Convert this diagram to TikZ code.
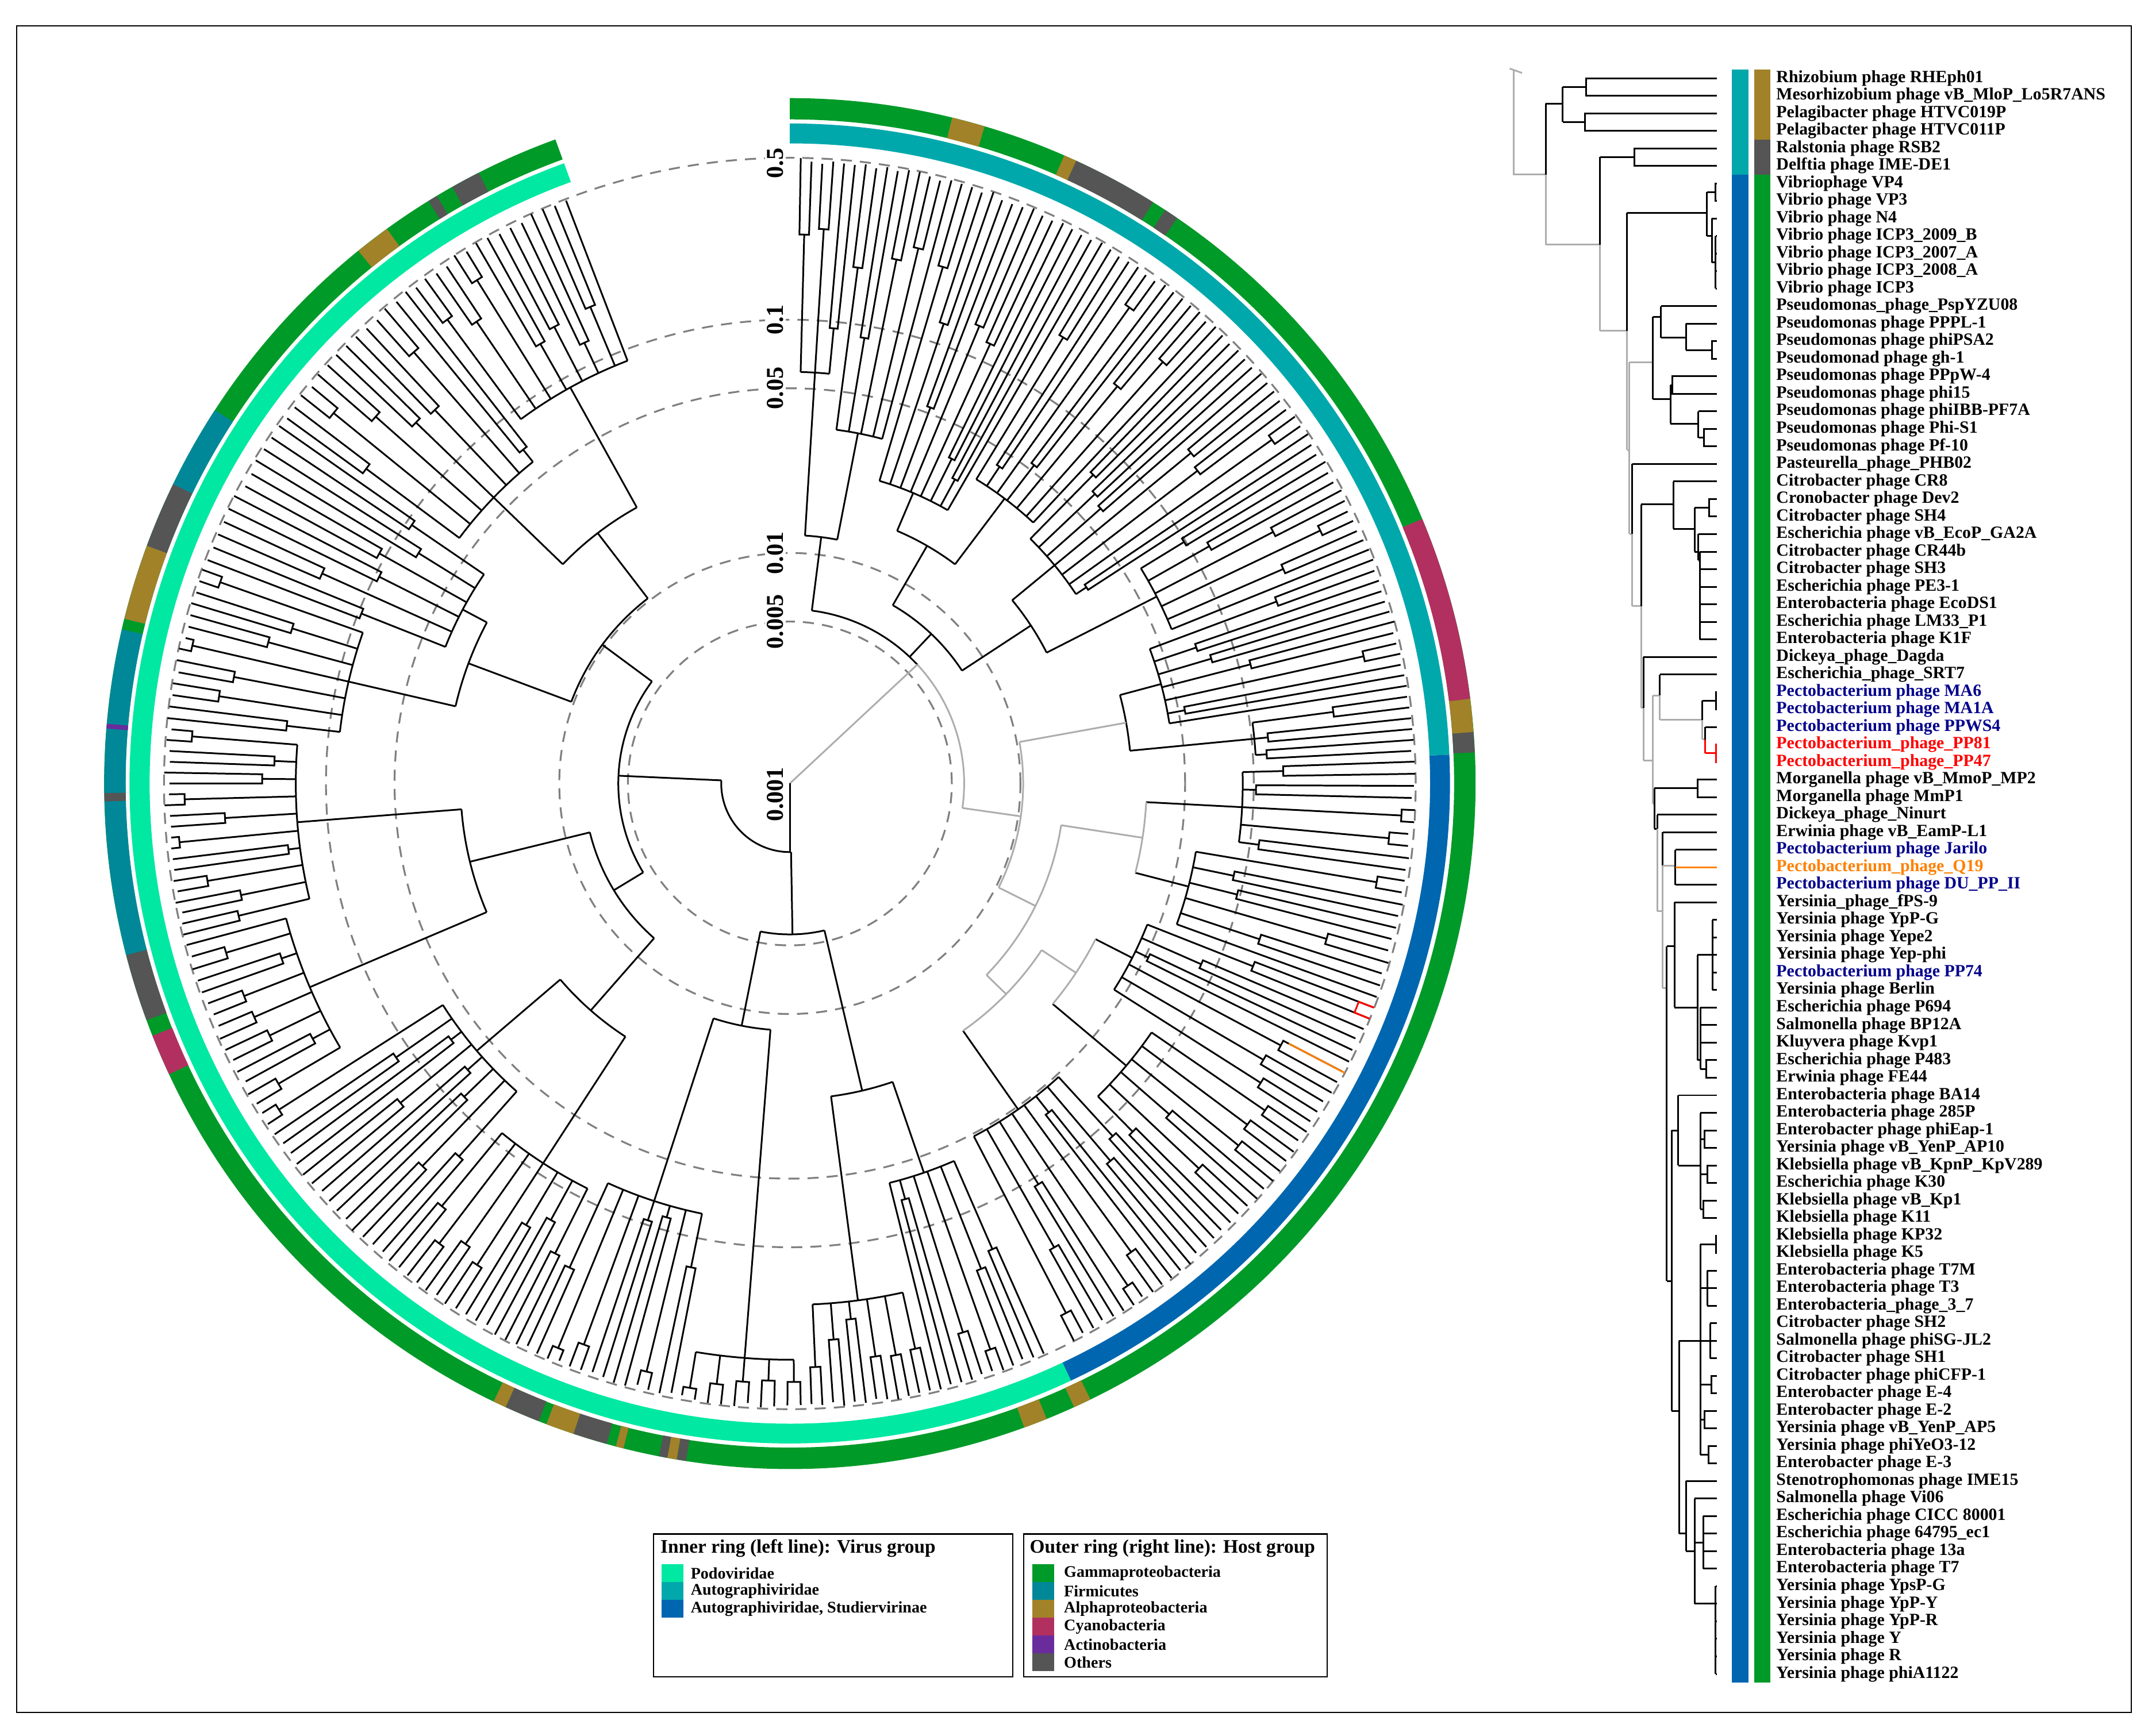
\documentclass[tikz,border=0pt]{standalone}
\usepackage{fontspec}
\setmainfont{Liberation Serif}
\definecolor{cPodo}{HTML}{00E8A2}
\definecolor{cAuto}{HTML}{00A8AC}
\definecolor{cStud}{HTML}{0066B0}
\definecolor{cGamma}{HTML}{009A28}
\definecolor{cFirm}{HTML}{008898}
\definecolor{cAlpha}{HTML}{A28228}
\definecolor{cCyano}{HTML}{B23060}
\definecolor{cActino}{HTML}{6A2C9C}
\definecolor{cOther}{HTML}{555555}
\definecolor{cNavy}{HTML}{00008B}
\definecolor{cOrange}{HTML}{FF8000}
\newcommand\myclade[6]{%
 \pgfmathsetmacro\cM{((#1)+(#2))/2}%
 \pgfmathsetmacro\cD{((#1)-(#2))/(#3-1)}%
 \pgfmathtruncatemacro\cNP{floor(#3/2)}%
 \pgfmathtruncatemacro\cOdd{#3-2*\cNP}%
 \pgfmathsetmacro\cFirst{(#1)-\cD/2}%
 \ifnum\cOdd=1 \pgfmathsetmacro\cLast{#2}\else\pgfmathsetmacro\cLast{(#2)+\cD/2}\fi
 \draw[#6] (\cM:#5) -- (\cM:#4);
 \draw[#6] (\cFirst:#4) arc[start angle=\cFirst,end angle=\cLast,radius=#4];
 \foreach \k in {1,...,\cNP}{%
   \pgfmathsetmacro\cPa{(#1)-(2*\k-2)*\cD}%
   \pgfmathsetmacro\cPb{\cPa-\cD}%
   \pgfmathsetmacro\cPm{\cPa-\cD/2}%
   \pgfmathsetmacro\cPr{#4+8+rnd*(440-#4)}%
   \pgfmathsetmacro\cTa{452+rnd*4}\pgfmathsetmacro\cTb{452+rnd*4}%
   \draw[#6] (\cPm:#4) -- (\cPm:\cPr);
   \draw[#6] (\cPa:\cTa) -- (\cPa:\cPr) arc[start angle=\cPa,end angle=\cPb,radius=\cPr] -- (\cPb:\cTb);
 }%
 \ifnum\cOdd=1 \draw[#6] (#2:#4) -- (#2:455);\fi
}
\newcommand\myseg[5]{\fill[#1] (#2:#4) arc[start angle=#2,end angle=#3,radius=#4] -- (#3:#5) arc[start angle=#3,end angle=#2,radius=#5] -- cycle;}
\newcommand\myarc[4][br]{\draw[#1] (#2:#4) arc[start angle=#2,end angle=#3,radius=#4];}
\newcommand\mystem[4][br]{\draw[#1] (#2:#3) -- (#2:#4);}
\newcommand\rlf[2]{\draw[br] (#1,#2)--(1251,#2);}
\newcommand\rpr[2]{\draw[br] (1251,#2)--(#1,#2)--(#1,#2+1)--(1251,#2+1);}
\begin{document}
\begin{tikzpicture}[x=0.02388cm,y=-0.02388cm,
 br/.style={line width=0.85pt,black},
 gbr/.style={line width=0.85pt,black!32},
 rbr/.style={line width=0.85pt,red},
 obr/.style={line width=0.85pt,cOrange},
 dashc/.style={line width=0.9pt,black!50,dash pattern=on 5.5pt off 4pt},
 lab/.style={anchor=west,font=\fontsize{8.5}{10}\selectfont\bfseries,inner sep=0pt},
 leg/.style={anchor=west,font=\fontsize{8}{9}\selectfont\bfseries,inner sep=0pt},
 legt/.style={anchor=west,font=\fontsize{9.5}{11}\selectfont\bfseries,inner sep=0pt},
 scl/.style={rotate=90,font=\fontsize{12}{12}\selectfont\bfseries,fill=white,inner sep=1pt}]
\useasboundingbox (0,0) rectangle (1568,1265);
\draw[line width=0.6pt] (12,19) rectangle (1553,1248);
\pgfmathsetseed{11}
\begin{scope}[shift={(575.5,571)},yscale=-1]
 \foreach \r in {118,168,288,338,456}{\draw[dashc] (0,0) circle[radius=\r];}
 % teal clade
 \myclade{89}{84}{6}{300}{181}{br}
 \myclade{83}{75}{9}{260}{181}{br}
 \myarc{86.5}{79}{181}\mystem{82.75}{127}{181}
 \myclade{74}{60}{15}{230}{200}{br}
 \myclade{59}{47}{13}{260}{200}{br}
 \myarc{67}{53}{200}\mystem{60}{150}{200}
 \myclade{46}{33}{14}{250}{210}{br}
 \myclade{32}{22}{11}{300}{210}{br}
 \myarc{39.5}{27}{210}\mystem{33.25}{150}{210}
 \myarc{60}{33.25}{150}\mystem{46.6}{127}{150}
 \myarc{82.75}{43}{127}\myarc[gbr]{43}{-8.1}{127}
 \draw[gbr] (0,0) -- (43:127);
 % cyanobacteria clades
 \myclade{21}{9}{13}{280}{249}{br}
 \myclade{8}{3}{6}{340}{249}{br}
 \myarc{15}{5.5}{249}\mystem[gbr]{10.25}{170}{249}
 % Studiervirinae
 \myclade{2}{-8}{10}{330}{260}{br}
 \myclade{-9}{-20}{11}{300}{260}{br}
 \myarc[gbr]{-3}{-14.5}{260}\mystem[gbr]{-8.75}{200}{260}
 \myclade{-21}{-33}{12}{280}{250}{br}
 \myclade{-34}{-46}{12}{320}{250}{br}
 \myarc[gbr]{-27}{-40}{250}\mystem[gbr]{-33.5}{220}{250}
 \myclade{-47}{-63}{16}{290}{220}{br}
 \myarc[gbr]{-33.5}{-55}{220}\mystem[gbr]{-44.25}{200}{220}
 \myarc[gbr]{-8.75}{-44.25}{200}\mystem[gbr]{-26.5}{170}{200}
 \myarc[gbr]{10.25}{-26.5}{170}\mystem[gbr]{-8.1}{127}{170}
 \draw[rbr] (-21:456) -- (-21:444) arc[start angle=-21,end angle=-22.09,radius=444] -- (-22.09:456);
 \draw[obr] (-27.55:410) -- (-27.55:456);
 % Podoviridae
 \myclade{-66}{-76}{11}{300}{230}{br}
 \myclade{-77}{-88}{12}{380}{230}{br}
 \myarc{-71}{-82.5}{230}\mystem{-76.75}{110}{230}
 \myclade{-89}{-100}{10}{420}{180}{br}
 \myclade{-101}{-115}{14}{320}{180}{br}
 \myarc{-94.5}{-108}{180}\mystem{-101.25}{110}{180}
 \myarc{-76.75}{-101.25}{110}\mystem{-89}{50}{110}
 \myclade{-116}{-130}{14}{330}{220}{br}
 \myclade{-131}{-148}{16}{300}{220}{br}
 \myarc{-123}{-139.5}{220}\mystem{-131.25}{150}{220}
 \myclade{-149}{-165}{15}{380}{240}{br}
 \myclade{-166}{-185}{20}{360}{240}{br}
 \myarc{-157}{-175.5}{240}\mystem{-166.25}{150}{240}
 \myarc{-131.25}{-166.25}{150}\mystem{-148.75}{125}{150}
 \myclade{-186}{-200}{14}{330}{250}{br}
 \myclade{-201}{-215}{12}{270}{250}{br}
 \myarc{-193}{-208}{250}\mystem{-200.5}{170}{250}
 \myclade{-216}{-232}{14}{300}{230}{br}
 \myclade{-233}{-249}{15}{330}{230}{br}
 \myarc{-224}{-241}{230}\mystem{-232.5}{170}{230}
 \myarc{-200.5}{-232.5}{170}\mystem{-216.5}{125}{170}
 \myarc{-148.75}{-216.5}{125}\mystem{-182.6}{50}{125}
 \myarc{-89}{-182.6}{50}
 \draw[br] (0,0) -- (-90:50);
 % inner ring
 \myseg{cAuto}{90}{2.5}{466.5}{481}
 \myseg{cStud}{2.5}{-64.8}{466.5}{481}
 \myseg{cPodo}{-64.8}{-250}{466.5}{481}
 % outer ring
 \myseg{cGamma}{90}{-250}{484}{499.5}
 \myseg{cAlpha}{76.3}{73.5}{484}{499.5}
 \myseg{cAlpha}{66.4}{65.3}{484}{499.5}
 \myseg{cOther}{65.3}{58}{484}{499.5}
 \myseg{cOther}{56.8}{55.6}{484}{499.5}
 \myseg{cCyano}{22.7}{7.1}{484}{499.5}
 \myseg{cAlpha}{7.1}{4.3}{484}{499.5}
 \myseg{cOther}{4.3}{2.6}{484}{499.5}
 \myseg{cAlpha}{-64}{-65.5}{484}{499.5}
 \myseg{cAlpha}{-68}{-70}{484}{499.5}
 \myseg{cOther}{-98.7}{-99.5}{484}{499.5}
 \myseg{cAlpha}{-99.5}{-100.3}{484}{499.5}
 \myseg{cOther}{-100.3}{-101}{484}{499.5}
 \myseg{cAlpha}{-104.05}{-104.7}{484}{499.5}
 \myseg{cOther}{-105.5}{-108.4}{484}{499.5}
 \myseg{cAlpha}{-108.4}{-110.8}{484}{499.5}
 \myseg{cOther}{-111.5}{-114.5}{484}{499.5}
 \myseg{cAlpha}{-114.5}{-115.6}{484}{499.5}
 \myseg{cCyano}{-154.9}{-158.4}{484}{499.5}
 \myseg{cOther}{-159.8}{-165.5}{484}{499.5}
 \myseg{cFirm}{-165.5}{-213}{484}{499.5}
 \myseg{cOther}{-178.5}{-179.2}{484}{499.5}
 \myseg{cActino}{-184.6}{-185}{484}{499.5}
 \myseg{cAlpha}{-193.9}{-200.3}{484}{499.5}
 \myseg{cOther}{-200.3}{-205.9}{484}{499.5}
 \myseg{cFirm}{-205.9}{-213}{484}{499.5}
 \myseg{cGamma}{-193}{-193.9}{484}{499.5}
 \myseg{cAlpha}{-231}{-234}{484}{499.5}
 \myseg{cOther}{-238.2}{-239}{484}{499.5}
 \myseg{cOther}{-240.5}{-243}{484}{499.5}
\end{scope}
% scale labels
\node[scl] (s1) at (565,119) {0.5};
\node[scl] (s2) at (565,233) {0.1};
\node[scl] (s3) at (565,283) {0.05};
\node[scl] (s4) at (565,403) {0.01};
\node[scl] (s5) at (565,453) {0.005};
\node[scl] (s6) at (565,579) {0.001};
% right tree
\begin{scope}[shift={(0,44.22)},yscale=12.78]
\draw[gbr] (1100,0.45)--(1109,0.7);
\draw[gbr] (1102.8,0.55)--(1102.8,6.5)--(1126.2,6.5);
\draw[br] (1126.2,2.45)--(1126.2,6.5); \draw[gbr] (1126.2,6.5)--(1126.2,10.5);
\draw[br] (1126.2,2.45)--(1138.6,2.45); \draw[br] (1138.6,1.5)--(1138.6,3.5);
\draw[br] (1138.6,1.5)--(1155.8,1.5); \rpr{1155.8}{1}
\draw[br] (1138.6,3.5)--(1154.8,3.5); \rpr{1154.8}{3}
\draw[gbr] (1126.2,10.5)--(1165.9,10.5);
\draw[br] (1165.9,5.5)--(1165.9,10.5); \draw[gbr] (1165.9,10.5)--(1165.9,15.4);
\draw[br] (1165.9,5.5)--(1190.7,5.5); \rpr{1190.7}{5}
\draw[gbr] (1165.9,15.4)--(1185.5,15.4);
\draw[br] (1185.5,8.67)--(1185.5,15.4); \draw[gbr] (1185.5,15.4)--(1185.5,22.2);
\draw[br] (1185.5,8.67)--(1243.8,8.67); \draw[br] (1243.8,7.5)--(1243.8,10);
\draw[br] (1243.8,7.5)--(1250,7.5); \rpr{1250}{7}
\draw[br] (1243.8,10)--(1247.2,10); \draw[br] (1247.2,9)--(1247.2,11.5); \rlf{1247.2}{9}
\draw[br] (1247.2,11.5)--(1250,11.5); \draw[br] (1250,10)--(1250,13);
\foreach \i in {10,...,13}{\rlf{1250}{\i}}
\draw[gbr] (1185.5,22.2)--(1187.2,22.2); \draw[gbr] (1187.2,17.2)--(1187.2,27);
\draw[gbr] (1187.2,17.2)--(1204.4,17.2); \draw[br] (1204.4,14.6)--(1204.4,19.3);
\draw[br] (1204.4,14.6)--(1210.3,14.6); \draw[br] (1210.3,14)--(1210.3,15.8); \rlf{1210.3}{14}
\draw[br] (1210.3,15.8)--(1228.4,15.8); \draw[br] (1228.4,15)--(1228.4,16.5); \rlf{1228.4}{15}
\draw[br] (1228.4,16.5)--(1247.2,16.5); \rpr{1247.2}{16}
\draw[br] (1204.4,19.3)--(1217.2,19.3); \draw[br] (1217.2,18.5)--(1217.2,20.7);
\draw[br] (1217.2,18.5)--(1218.5,18.5); \rpr{1218.5}{18}
\draw[br] (1217.2,20.7)--(1237.5,20.7); \draw[br] (1237.5,20)--(1237.5,21.5); \rlf{1237.5}{20}
\draw[br] (1237.5,21.5)--(1241.7,21.5); \rpr{1241.7}{21}
\draw[gbr] (1187.2,27)--(1189.3,27); \draw[br] (1189.3,23)--(1189.3,27); \draw[gbr] (1189.3,27)--(1189.3,31.1); \rlf{1189.3}{23}
\draw[gbr] (1189.3,31.1)--(1195.7,31.1); \draw[br] (1195.7,25.3)--(1195.7,31.1); \draw[gbr] (1195.7,31.1)--(1195.7,36.9);
\draw[br] (1195.7,25.3)--(1219.3,25.3); \draw[br] (1219.3,24)--(1219.3,26.7); \rlf{1219.3}{24}
\draw[br] (1219.3,26.7)--(1234.7,26.7); \draw[br] (1234.7,25.5)--(1234.7,28);
\draw[br] (1234.7,25.5)--(1245.2,25.5); \rpr{1245.2}{25}
\draw[br] (1234.7,28)--(1237.5,28); \draw[br] (1237.5,27)--(1237.5,28.5); \rlf{1237.5}{27}
\draw[br] (1237.5,28.5)--(1238.5,28.5); \draw[br] (1238.5,28)--(1238.5,33);
\foreach \i in {28,...,33}{\rlf{1238.5}{\i}}
\draw[gbr] (1195.7,36.9)--(1197.4,36.9); \draw[br] (1197.4,34)--(1197.4,36.9); \draw[gbr] (1197.4,36.9)--(1197.4,39.9); \rlf{1197.4}{34}
\draw[gbr] (1197.4,39.9)--(1204.4,39.9); \draw[gbr] (1204.4,36.2)--(1204.4,42.4);
\draw[gbr] (1204.4,36.2)--(1209.3,36.2); \draw[br] (1209.3,35)--(1209.3,36.2); \draw[gbr] (1209.3,36.2)--(1209.3,37.6); \rlf{1209.3}{35}
\draw[gbr] (1209.3,37.6)--(1240.3,37.6); \draw[br] (1240.3,36.5)--(1240.3,37.6); \draw[gbr] (1240.3,37.6)--(1240.3,38.7);
\draw[br] (1240.3,36.5)--(1250.5,36.5); \rpr{1250.5}{36}
\draw[gbr] (1240.3,38.7)--(1242.4,38.7); \draw[br] (1242.4,38)--(1242.4,38.7); \draw[rbr] (1242.4,38.7)--(1242.4,39.5); \rlf{1242.4}{38}
\draw[rbr] (1242.4,39.5)--(1250.5,39.5); \draw[rbr] (1251,39)--(1250.5,39)--(1250.5,40)--(1251,40);
\draw[gbr] (1204.4,42.4)--(1205.4,42.4); \draw[br] (1205.4,41.5)--(1205.4,43.8);
\draw[br] (1205.4,41.5)--(1236.8,41.5); \rpr{1236.8}{41}
\draw[br] (1205.4,43.8)--(1207.5,43.8); \draw[br] (1207.5,43)--(1207.5,43.8); \draw[gbr] (1207.5,43.8)--(1207.5,48.5); \rlf{1207.5}{43}
\draw[gbr] (1207.5,48.5)--(1211.4,48.5); \draw[br] (1211.4,44)--(1211.4,45.9); \draw[gbr] (1211.4,45.9)--(1211.4,52.9); \rlf{1211.4}{44}
\draw[gbr] (1211.4,45.9)--(1220.7,45.9); \draw[br] (1220.7,45)--(1220.7,47); \rlf{1220.7}{45} \rlf{1220.7}{47}
\draw[obr] (1220.7,46)--(1251,46);
\draw[gbr] (1211.4,52.9)--(1214.4,52.9); \draw[br] (1214.4,50.5)--(1214.4,69.6);
\draw[br] (1214.4,50.5)--(1220,50.5); \draw[br] (1220,48)--(1220,54); \rlf{1220}{48}
\draw[br] (1220,54)--(1236.8,54); \draw[br] (1236.8,51)--(1236.8,57);
\draw[br] (1236.8,51)--(1247.8,51); \draw[br] (1247.8,49)--(1247.8,53);
\foreach \i in {49,...,53}{\rlf{1247.8}{\i}}
\draw[br] (1236.8,57)--(1238.9,57); \draw[br] (1238.9,54)--(1238.9,57.5);
\foreach \i in {54,55,56}{\rlf{1238.9}{\i}}
\draw[br] (1238.9,57.5)--(1243,57.5); \rpr{1243}{57}
\draw[br] (1214.4,69.6)--(1218,69.6); \draw[br] (1218,61)--(1218,77);
\draw[br] (1218,61)--(1222.8,61); \draw[br] (1222.8,59)--(1222.8,63); \rlf{1222.8}{59}
\draw[br] (1222.8,63)--(1238.9,63); \draw[br] (1238.9,60)--(1238.9,65.5); \rlf{1238.9}{60}
\draw[br] (1238.9,61.5)--(1242,61.5); \rpr{1242}{61}
\draw[br] (1238.9,63.5)--(1244,63.5); \rpr{1244}{63}
\draw[br] (1238.9,65.5)--(1241,65.5); \rpr{1241}{65}
\draw[br] (1218,77)--(1223.5,77); \draw[br] (1223.5,73)--(1223.5,84);
\draw[br] (1223.5,73)--(1238.9,73); \draw[br] (1238.9,67.5)--(1238.9,79.5);
\draw[br] (1238.9,67.5)--(1250.5,67.5); \rpr{1250.5}{67}
\draw[br] (1238.9,70)--(1244,70); \draw[br] (1244,69)--(1244,71);
\foreach \i in {69,70,71}{\rlf{1244}{\i}}
\draw[br] (1238.9,73)--(1246,73); \draw[br] (1246,72)--(1246,74);
\foreach \i in {72,73,74}{\rlf{1246}{\i}}
\draw[br] (1238.9,75.5)--(1247,75.5); \rpr{1247}{75}
\draw[br] (1238.9,77.5)--(1242,77.5); \rpr{1242}{77}
\draw[br] (1238.9,79.5)--(1245,79.5); \rpr{1245}{79}
\draw[br] (1223.5,84)--(1228.4,84); \draw[br] (1228.4,81)--(1228.4,85); \rlf{1228.4}{81}
\draw[br] (1228.4,85)--(1234.7,85); \draw[br] (1234.7,82)--(1234.7,88); \rlf{1234.7}{82}
\draw[br] (1234.7,84.5)--(1241,84.5); \draw[br] (1241,83)--(1241,86);
\foreach \i in {83,...,86}{\rlf{1241}{\i}}
\draw[br] (1234.7,88)--(1250,88); \draw[br] (1250,87)--(1250,92);
\foreach \i in {87,...,92}{\rlf{1250}{\i}}
% strips
\fill[cAuto] (1262,0.5) rectangle (1274,6.5);
\fill[cStud] (1262,6.5) rectangle (1274,92.5);
\fill[cAlpha] (1278,0.5) rectangle (1290,4.5);
\fill[cOther] (1278,4.5) rectangle (1290,6.5);
\fill[cGamma] (1278,6.5) rectangle (1290,92.5);
% labels
\foreach \t/\c [count=\i] in {
Rhizobium phage RHEph01/black,
Mesorhizobium phage vB\_MloP\_Lo5R7ANS/black,
Pelagibacter phage HTVC019P/black,
Pelagibacter phage HTVC011P/black,
Ralstonia phage RSB2/black,
Delftia phage IME-DE1/black,
Vibriophage VP4/black,
Vibrio phage VP3/black,
Vibrio phage N4/black,
Vibrio phage ICP3\_2009\_B/black,
Vibrio phage ICP3\_2007\_A/black,
Vibrio phage ICP3\_2008\_A/black,
Vibrio phage ICP3/black,
Pseudomonas\_phage\_PspYZU08/black,
Pseudomonas phage PPPL-1/black,
Pseudomonas phage phiPSA2/black,
Pseudomonad phage gh-1/black,
Pseudomonas phage PPpW-4/black,
Pseudomonas phage phi15/black,
Pseudomonas phage phiIBB-PF7A/black,
Pseudomonas phage Phi-S1/black,
Pseudomonas phage Pf-10/black,
Pasteurella\_phage\_PHB02/black,
Citrobacter phage CR8/black,
Cronobacter phage Dev2/black,
Citrobacter phage SH4/black,
Escherichia phage vB\_EcoP\_GA2A/black,
Citrobacter phage CR44b/black,
Citrobacter phage SH3/black,
Escherichia phage PE3-1/black,
Enterobacteria phage EcoDS1/black,
Escherichia phage LM33\_P1/black,
Enterobacteria phage K1F/black,
Dickeya\_phage\_Dagda/black,
Escherichia\_phage\_SRT7/black,
Pectobacterium phage MA6/cNavy,
Pectobacterium phage MA1A/cNavy,
Pectobacterium phage PPWS4/cNavy,
Pectobacterium\_phage\_PP81/red,
Pectobacterium\_phage\_PP47/red,
Morganella phage vB\_MmoP\_MP2/black,
Morganella phage MmP1/black,
Dickeya\_phage\_Ninurt/black,
Erwinia phage vB\_EamP-L1/black,
Pectobacterium phage Jarilo/cNavy,
Pectobacterium\_phage\_Q19/cOrange,
Pectobacterium phage DU\_PP\_II/cNavy,
Yersinia\_phage\_fPS-9/black,
Yersinia phage YpP-G/black,
Yersinia phage Yepe2/black,
Yersinia phage Yep-phi/black,
Pectobacterium phage PP74/cNavy,
Yersinia phage Berlin/black,
Escherichia phage P694/black,
Salmonella phage BP12A/black,
Kluyvera phage Kvp1/black,
Escherichia phage P483/black,
Erwinia phage FE44/black,
Enterobacteria phage BA14/black,
Enterobacteria phage 285P/black,
Enterobacter phage phiEap-1/black,
Yersinia phage vB\_YenP\_AP10/black,
Klebsiella phage vB\_KpnP\_KpV289/black,
Escherichia phage K30/black,
Klebsiella phage vB\_Kp1/black,
Klebsiella phage K11/black,
Klebsiella phage KP32/black,
Klebsiella phage K5/black,
Enterobacteria phage T7M/black,
Enterobacteria phage T3/black,
Enterobacteria\_phage\_3\_7/black,
Citrobacter phage SH2/black,
Salmonella phage phiSG-JL2/black,
Citrobacter phage SH1/black,
Citrobacter phage phiCFP-1/black,
Enterobacter phage E-4/black,
Enterobacter phage E-2/black,
Yersinia phage vB\_YenP\_AP5/black,
Yersinia phage phiYeO3-12/black,
Enterobacter phage E-3/black,
Stenotrophomonas phage IME15/black,
Salmonella phage Vi06/black,
Escherichia phage CICC 80001/black,
Escherichia phage 64795\_ec1/black,
Enterobacteria phage 13a/black,
Enterobacteria phage T7/black,
Yersinia phage YpsP-G/black,
Yersinia phage YpP-Y/black,
Yersinia phage YpP-R/black,
Yersinia phage Y/black,
Yersinia phage R/black,
Yersinia phage phiA1122/black}
{\node[lab,text=\c] (lab\i) at (1294,\i) {\t};}
\end{scope}
% legends
\draw[line width=0.6pt] (476,1118) rectangle (738,1222);
\node[legt] (lt1) at (481,1128.5) {Inner ring (left line): Virus group};
\fill[cPodo] (482,1140) rectangle (498,1153);
\fill[cAuto] (482,1153) rectangle (498,1166);
\fill[cStud] (482,1166) rectangle (498,1179);
\node[leg] (l11) at (503,1146.5) {Podoviridae};
\node[leg] (l12) at (503,1159.5) {Autographiviridae};
\node[leg] (l13) at (503,1172.5) {Autographiviridae, Studiervirinae};
\draw[line width=0.6pt] (746,1118) rectangle (967,1222);
\node[legt] (lt2) at (750,1128.5) {Outer ring (right line): Host group};
\foreach \cc/\tt [count=\j] in {cGamma/Gammaproteobacteria,cFirm/Firmicutes,cAlpha/Alphaproteobacteria,cCyano/Cyanobacteria,cActino/Actinobacteria,cOther/Others}{
 \fill[\cc] (752,1127+13*\j) rectangle (768,1140+13*\j);
 \node[leg] (l2\j) at (775,1133.5+13*\j) {\tt};
}
\end{tikzpicture}
\end{document}
